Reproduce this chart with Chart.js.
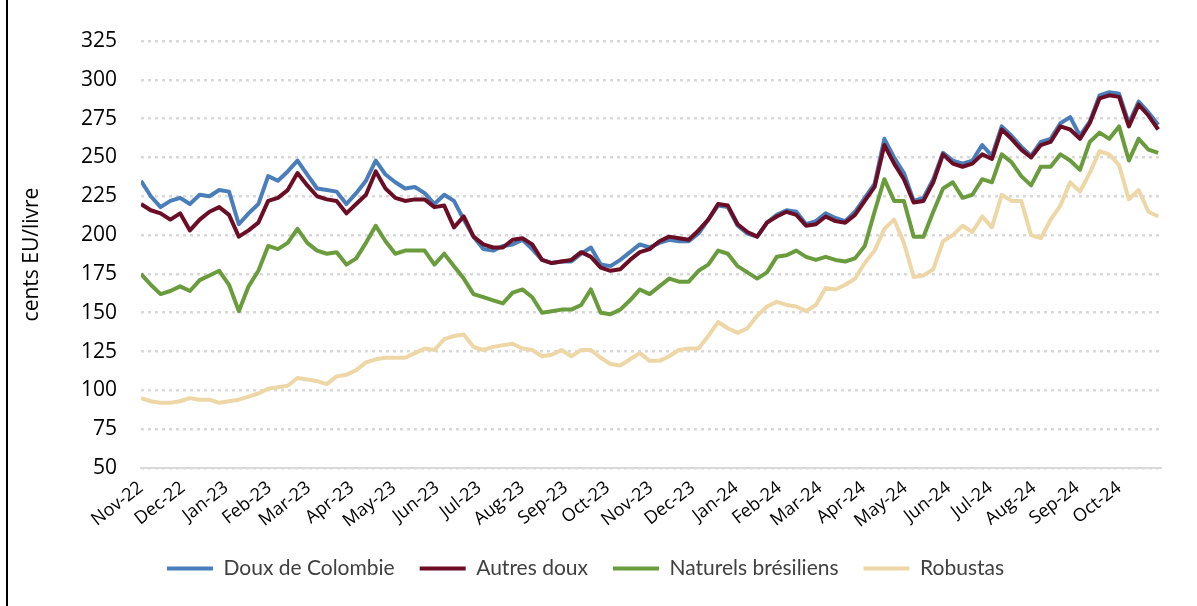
<!DOCTYPE html>
<html>
<head>
<meta charset="utf-8" />
<script src="https://cdn.jsdelivr.net/npm/chart.js@4"></script>
<style>
  html, body { margin: 0; padding: 0; background: #fff; }
  #wrap { position: relative; width: 1197px; height: 606px; }
  #edge { position: absolute; left: 6px; top: 0; width: 2px; height: 606px; background: #000; }
</style>
</head>
<body>
<div id="wrap">
  <canvas id="coffee" width="1197" height="606"></canvas>
  <div id="edge"></div>
</div>
<script>
// weekly readings (cents EU/livre), first reading on 1 Nov 2022
const seriesNames = ["Doux de Colombie", "Autres doux", "Naturels brésiliens", "Robustas"];
const seriesColours = ["#4a7ebb", "#6b0d24", "#6a9b3c", "#eed7a6"];

const doux_colombie = [
  235, 225, 218, 222, 224, 220, 226, 225, 229, 228, 207, 214, 220, 238, 235, 241, 248, 239, 230, 229, 228, 220, 227, 235, 248, 239, 234,
  230, 231, 227, 220, 226, 222, 210, 199, 191, 190, 193, 194, 197, 191, 184, 182, 183, 183, 188, 192, 181, 180, 184, 189, 194, 192,
  195, 197, 196, 196, 201, 210, 219, 218, 206, 201, 199, 208, 213, 216, 215, 207, 209, 214, 211, 209, 215, 224, 233, 262, 250, 240,
  222, 224, 236, 253, 248, 246, 248, 258, 251, 270, 264, 257, 251, 260, 262, 272, 276, 264, 273, 290, 292, 291, 272, 286, 279, 271
];
const autres_doux = [
  220, 216, 214, 210, 214, 203, 210, 215, 218, 213, 199, 203, 208, 222, 224, 229, 240, 232, 225, 223, 222, 214, 220, 226, 241, 230, 224,
  222, 223, 223, 218, 219, 205, 212, 199, 194, 192, 192, 197, 198, 194, 184, 182, 183, 184, 189, 186, 179, 177, 178, 184, 189, 191,
  196, 199, 198, 197, 203, 210, 220, 219, 207, 202, 199, 208, 212, 215, 213, 206, 207, 212, 209, 208, 213, 222, 231, 258, 246, 236,
  221, 222, 234, 252, 246, 244, 246, 252, 249, 268, 262, 255, 250, 258, 260, 270, 268, 262, 272, 288, 290, 289, 270, 284, 277, 268
];
const naturels_bresiliens = [
  175, 168, 162, 164, 167, 164, 171, 174, 177, 168, 151, 167, 177, 193, 191, 195, 204, 195, 190, 188, 189, 181, 185, 195, 206, 196, 188,
  190, 190, 190, 181, 188, 180, 172, 162, 160, 158, 156, 163, 165, 160, 150, 151, 152, 152, 155, 165, 150, 149, 152, 158, 165, 162,
  167, 172, 170, 170, 177, 181, 190, 188, 180, 176, 172, 176, 186, 187, 190, 186, 184, 186, 184, 183, 185, 193, 215, 236, 222, 222,
  199, 199, 215, 230, 234, 224, 226, 236, 234, 252, 247, 238, 232, 244, 244, 252, 248, 242, 260, 266, 262, 270, 248, 262, 255, 253
];
const robustas = [
  95, 93, 92, 92, 93, 95, 94, 94, 92, 93, 94, 96, 98, 101, 102, 103, 108, 107, 106, 104, 109, 110, 113, 118, 120, 121, 121,
  121, 124, 127, 126, 133, 135, 136, 128, 126, 128, 129, 130, 127, 126, 122, 123, 126, 122, 126, 126, 121, 117, 116, 120, 124, 119,
  119, 122, 126, 127, 127, 135, 144, 140, 137, 140, 148, 154, 157, 155, 154, 151, 155, 166, 165, 168, 172, 182, 190, 204, 210, 195,
  173, 174, 178, 196, 200, 206, 202, 212, 205, 226, 222, 222, 200, 198, 210, 219, 234, 228, 240, 254, 252, 245, 223, 229, 215, 212
];

const monthLabels = [
  "Nov-22", "Dec-22", "Jan-23", "Feb-23", "Mar-23", "Apr-23", "May-23", "Jun-23", "Jul-23", "Aug-23", "Sep-23", "Oct-23",
  "Nov-23", "Dec-23", "Jan-24", "Feb-24", "Mar-24", "Apr-24", "May-24", "Jun-24", "Jul-24", "Aug-24", "Sep-24", "Oct-24"
];
const yTicks = [50, 75, 100, 125, 150, 175, 200, 225, 250, 275, 300, 325];

const dayMs = 86400000;
const start = Date.UTC(2022, 10, 1);
const monthDays = monthLabels.map((_, i) => (Date.UTC(2022, 10 + i, 1) - start) / dayMs);
const weekDays = robustas.map((_, i) => i * 7);

const allSeries = [doux_colombie, autres_doux, naturels_bresiliens, robustas];
const drawOrder = [1, 0, 2, 3];
const sets = allSeries.map((vals, i) => ({
  label: seriesNames[i],
  data: vals,
  borderColor: seriesColours[i],
  backgroundColor: seriesColours[i],
  borderWidth: 4,
  pointRadius: 0,
  borderJoinStyle: "round",
  tension: 0,
  fill: false,
  order: drawOrder[i],
}));

new Chart(document.getElementById("coffee").getContext("2d"), {
  type: "line",
  data: { labels: weekDays, datasets: sets },
  options: {
    responsive: false,
    animation: false,
    events: [],
    layout: { padding: { left: 10, right: 36, top: 41, bottom: 17 } },
    scales: {
      x: {
        type: "linear",
        min: 0,
        max: 730,
        afterBuildTicks: (s) => { s.ticks = monthDays.map((v) => ({ value: v })); },
        afterFit: (s) => { s.height = 65; },
        ticks: {
          autoSkip: false,
          minRotation: 38,
          maxRotation: 38,
          padding: 9,
          color: "#000",
          font: { family: "Open Sans", size: 18 },
          callback: (v, i) => monthLabels[i],
        },
        grid: { display: false, drawTicks: false },
        border: { display: true, color: "#d9d9d9", width: 2 },
      },
      y: {
        min: 50,
        max: 325,
        afterBuildTicks: (s) => { s.ticks = yTicks.map((v) => ({ value: v })); },
        afterFit: (s) => { s.width = 131; },
        ticks: {
          padding: 24,
          color: "#000",
          font: { family: "Open Sans", size: 21 },
        },
        grid: { color: "#d9d9d9", lineWidth: 2.5, drawTicks: false, borderDash: [3, 4] },
        border: { display: false, dash: [3, 4] },
        title: {
          display: true,
          text: "cents EU/livre",
          color: "#000",
          font: { family: "Open Sans", size: 21 },
          padding: { top: 9, bottom: 0 },
        },
      },
    },
    plugins: {
      tooltip: { enabled: false },
      legend: {
        position: "bottom",
        labels: {
          boxWidth: 46,
          boxHeight: 4,
          padding: 25,
          color: "#404040",
          font: { family: "Lato", size: 21 },
          sort: (a, b) => a.datasetIndex - b.datasetIndex,
          generateLabels: (chart) =>
            Chart.defaults.plugins.legend.labels.generateLabels(chart).map((l) =>
              Object.assign(l, { lineWidth: 0, fillStyle: l.strokeStyle })
            ),
        },
      },
    },
  },
});
</script>
</body>
</html>
